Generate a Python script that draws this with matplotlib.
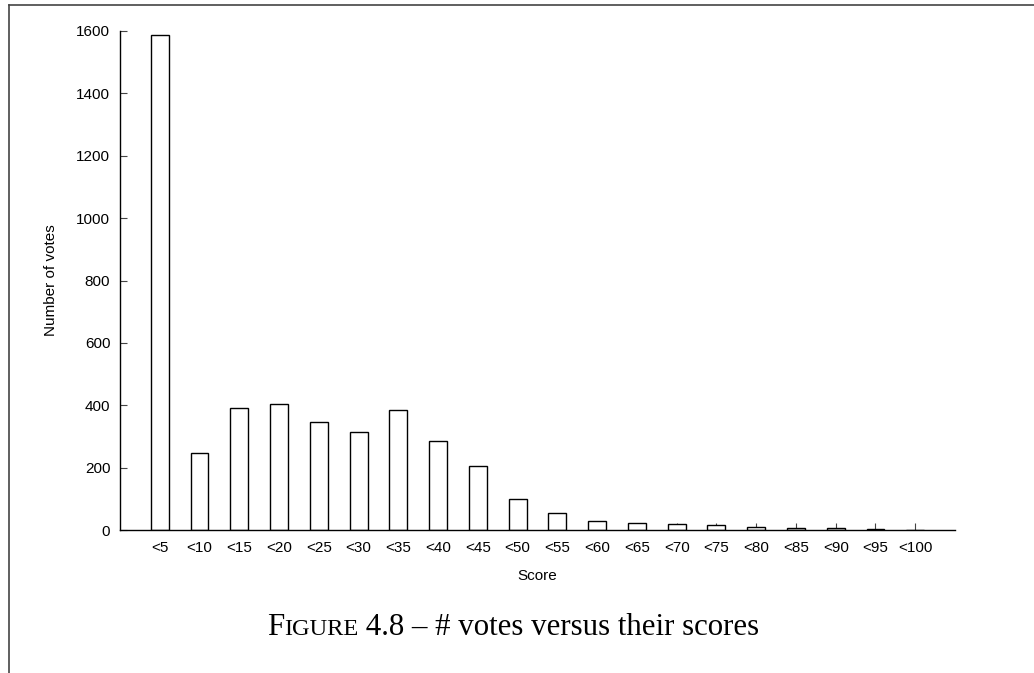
import matplotlib
matplotlib.use("Agg")
import matplotlib.pyplot as plt
from matplotlib.lines import Line2D
from matplotlib.transforms import IdentityTransform
import numpy as np

# Vote counts per score bucket
score_labels = ['<5', '<10', '<15', '<20', '<25', '<30', '<35', '<40', '<45', '<50',
                '<55', '<60', '<65', '<70', '<75', '<80', '<85', '<90', '<95', '<100']
vote_counts = [1587, 246, 390, 403, 345, 314, 384, 284, 205, 99,
               53, 30, 21, 20, 16, 9, 8, 5, 2, 1]
y_ticks = [0, 200, 400, 600, 800, 1000, 1200, 1400, 1600]

W, H = 1034, 673
fig = plt.figure(figsize=(W / 100, H / 100), dpi=100)
plt.rcParams['font.family'] = ['Liberation Sans', 'DejaVu Sans']

ax = fig.add_axes([120 / W, 1 - 530 / H, (955 - 120) / W, (530 - 31) / H])
ax.set_axisbelow(True)

x = np.arange(1, len(score_labels) + 1)
ax.bar(x, vote_counts, width=0.45, color='white', edgecolor='black', linewidth=1.0, zorder=2)

ax.set_xlim(0, len(score_labels) + 1)
ax.set_ylim(0, 1600)
ax.set_xticks(x)
ax.set_xticklabels(score_labels)
ax.set_yticks(y_ticks)

for side in ['top', 'right']:
    ax.spines[side].set_visible(False)
for side in ['left', 'bottom']:
    ax.spines[side].set_linewidth(1.0)
    ax.spines[side].set_zorder(3)

ax.tick_params(direction='in', length=5, width=0.8, color='#444444', labelsize=11)
ax.tick_params(axis='y', pad=7)
ax.tick_params(axis='x', pad=8)

ax.set_xlabel('Score', fontsize=11, labelpad=10)
ax.set_ylabel('Number of votes', fontsize=11, labelpad=13)

# page frame lines (top and left)
fig.add_artist(Line2D([8.5 / W, 8.5 / W], [0, 1 - 5 / H], color='#444444', linewidth=1.2))
fig.add_artist(Line2D([8.5 / W, 1], [1 - 5 / H, 1 - 5 / H], color='#444444', linewidth=1.2))

# caption with small caps "FIGURE"
pieces = [('F', 22.2), ('IGURE', 17.6), (' 4.8 \u2013 # votes versus their scores', 22.2)]
baseline = H - 635
texts = [fig.text(0, baseline, s, fontsize=fs, family='Liberation Serif',
                  ha='left', va='baseline', transform=IdentityTransform())
         for s, fs in pieces]
renderer = fig.canvas.get_renderer()
widths = [t.get_window_extent(renderer).width for t in texts]
xpos = 513 - sum(widths) / 2
for t, w in zip(texts, widths):
    t.set_x(xpos)
    xpos += w

fig.savefig('out.png', dpi=100)
